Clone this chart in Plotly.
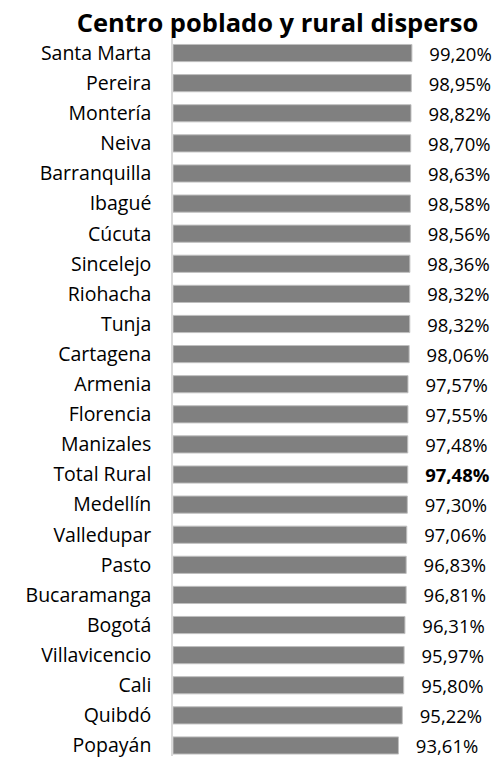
import plotly.graph_objects as go

categories = ["Santa Marta", "Pereira", "Montería", "Neiva", "Barranquilla", "Ibagué",
              "Cúcuta", "Sincelejo", "Riohacha", "Tunja", "Cartagena", "Armenia",
              "Florencia", "Manizales", "Total Rural", "Medellín", "Valledupar", "Pasto",
              "Bucaramanga", "Bogotá", "Villavicencio", "Cali", "Quibdó", "Popayán"]
values = [99.20, 98.95, 98.82, 98.70, 98.63, 98.58, 98.56, 98.36, 98.32, 98.32, 98.06,
          97.57, 97.55, 97.48, 97.48, 97.30, 97.06, 96.83, 96.81, 96.31, 95.97, 95.80,
          95.22, 93.61]
highlight = "Total Rural"

labels = []
for c, v in zip(categories, values):
    s = f"{v:.2f}".replace(".", ",") + "%"
    if c == highlight:
        s = f"<b>{s}</b>"
    labels.append("\u00a0\u00a0\u00a0" + s)

fig = go.Figure(go.Bar(
    x=values, y=categories, orientation="h",
    marker=dict(color="#808080", line=dict(color="#bfbfbf", width=1)),
    text=labels, textposition="outside", cliponaxis=False, constraintext="none",
    textfont=dict(family="Open Sans", size=18.5, color="#000000"),
    width=0.57,
))

n = len(categories)
fig.update_layout(
    width=500, height=758,
    margin=dict(l=173, r=38, t=38, b=0),
    paper_bgcolor="white", plot_bgcolor="white",
    title=dict(text="<b>Centro poblado y rural disperso</b>", x=0.555, xanchor="center",
               y=0.981, yanchor="top",
               font=dict(family="Open Sans", size=25.5, color="#000000")),
    showlegend=False,
    xaxis=dict(range=[0, 120], visible=False),
    yaxis=dict(range=[n - 0.65, -0.5], showline=True, linecolor="#d9d9d9", linewidth=1.5,
               ticks="", ticklabelstandoff=16,
               tickfont=dict(family="Open Sans", size=19.5, color="#000000"),
               showgrid=False),
    font=dict(family="Open Sans"),
)

fig.write_html("out.html", config={"displayModeBar": False},
               post_script="document.body.style.margin='0';document.body.style.overflow='hidden';")
